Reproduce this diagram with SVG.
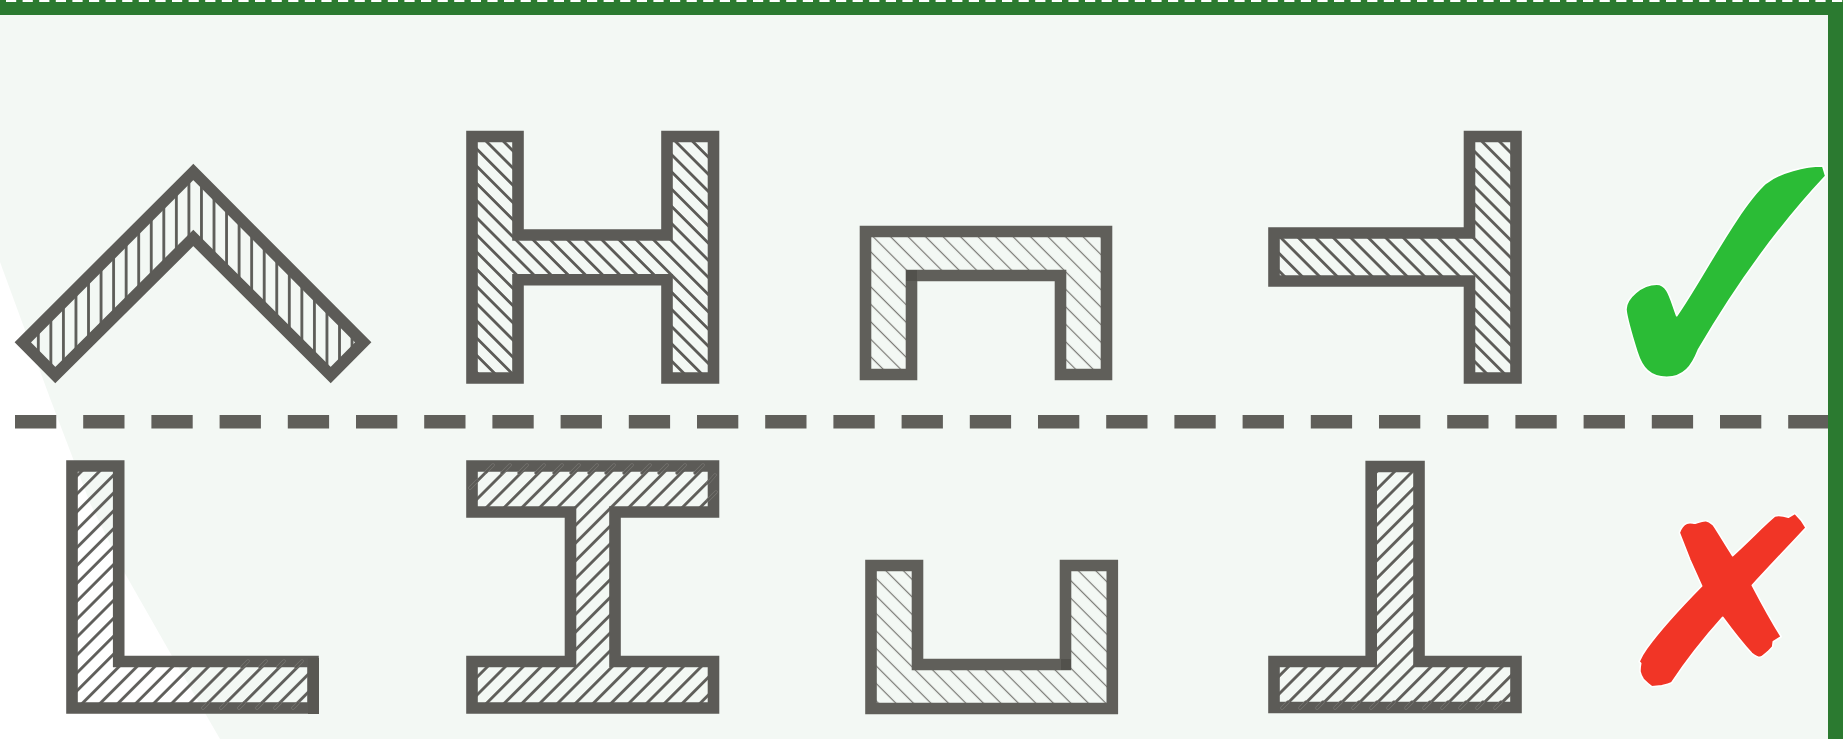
<svg xmlns="http://www.w3.org/2000/svg" width="1843" height="739" viewBox="0 0 1843 739">
<style>
.sec{stroke:#5c5b57;stroke-width:11.6;stroke-linejoin:miter;stroke-miterlimit:10}
.soft{stroke:#605f5a}
.hl{stroke:#5c5b57;stroke-width:2.8;fill:none}
.tl{stroke:#777672;stroke-width:1.2;fill:none}
.o1{stroke:#777672;stroke-width:3.4;stroke-linecap:round;fill:none}
.o2{stroke:#5a5955;stroke-width:2;stroke-linecap:round;fill:none}
</style>
<defs>
<pattern id="hv" width="12.55" height="20" patternUnits="userSpaceOnUse" patternTransform="translate(32.03 0)"><line class="hl" x1="6.275" y1="0" x2="6.275" y2="20"/></pattern>
<pattern id="hH" width="20" height="12.16" patternUnits="userSpaceOnUse" patternTransform="translate(9.6 0) rotate(45)"><line class="hl" x1="0" y1="6.08" x2="20" y2="6.08"/></pattern>
<pattern id="hT1" width="20" height="12.37" patternUnits="userSpaceOnUse" patternTransform="translate(19.75 0) rotate(45)"><line class="hl" x1="0" y1="6.185" x2="20" y2="6.185"/></pattern>
<pattern id="hU1" width="20" height="12.37" patternUnits="userSpaceOnUse" patternTransform="translate(15.35 0) rotate(45)"><line class="tl" x1="0" y1="6.185" x2="20" y2="6.185"/></pattern>
<pattern id="hU2" width="20" height="12.37" patternUnits="userSpaceOnUse" patternTransform="translate(9.05 0) rotate(45)"><line class="tl" x1="0" y1="6.185" x2="20" y2="6.185"/></pattern>
<pattern id="hL" width="20" height="12.66" patternUnits="userSpaceOnUse" patternTransform="translate(776.65 0) rotate(-45)"><line class="hl" x1="0" y1="6.33" x2="20" y2="6.33"/></pattern>
<pattern id="hI" width="20" height="12.59" patternUnits="userSpaceOnUse" patternTransform="translate(949.4 0) rotate(-45)"><line class="hl" x1="0" y1="6.295" x2="20" y2="6.295"/></pattern>
<pattern id="hT2" width="20" height="12.59" patternUnits="userSpaceOnUse" patternTransform="translate(1857.3 0) rotate(-45)"><line class="hl" x1="0" y1="6.295" x2="20" y2="6.295"/></pattern>
</defs>
<rect width="1843" height="739" fill="#ffffff"/>
<g id="frame">
<path d="M0 0H1843V739H220L172 656L123 570L90 503L50.7 400L0 262Z" fill="#f3f8f4"/>
<rect x="0" y="0" width="1843" height="15" fill="#2b7a30"/>
<rect x="1828" y="0" width="15" height="739" fill="#2b7a30"/>
<line x1="6" y1="1" x2="1843" y2="1" stroke="#ffffff" stroke-width="2" stroke-dasharray="10.2 6.4"/>
</g>
<g id="divider"><line x1="15" y1="421.8" x2="1828" y2="421.8" stroke="#605f5a" stroke-width="13.6" stroke-dasharray="41.3 26.9"/></g>

<g id="angle-chevron"><path class="sec" fill="url(#hv)" d="M193.3 172L22.8 342.3L55.3 375L193.3 238L330.7 375L363.2 342.3Z"/></g>

<g id="h-section"><path class="sec" fill="url(#hH)" d="M472 136.5H518V235H667V136.5H713.5V378H667V279.7H518V378H472Z"/></g>

<g id="channel-down"><path class="sec soft" fill="url(#hU1)" d="M865.5 231.5H1106.5V374.5H1060.5V275.5H911.5V374.5H865.5Z"/><rect x="906" y="270" width="11" height="11" fill="#52514c"/></g>

<g id="tee-left"><path class="sec" fill="url(#hT1)" d="M1274 233H1469.5V136.5H1516V378H1469.5V281H1274Z"/></g>

<g id="angle-l"><path class="sec" fill="url(#hL)" d="M72 466H118.7V661.5H313V708H72Z"/>
<rect x="308" y="658" width="11" height="56" fill="#595853"/>
<g class="o1"><path d="M203 708L208 703M242 667L248 661M221 708L226 703M260 667L266 661M239 708L244 703M278 667L284 661M257 708L262 703M296 667L302 661M275 708L280 703M293 708L298 703"/></g>
<g class="o2"><path d="M203 708L208 703M242 667L248 661M221 708L226 703M260 667L266 661M239 708L244 703M278 667L284 661M257 708L262 703M296 667L302 661M275 708L280 703M293 708L298 703"/></g>
</g>

<g id="i-section"><path class="sec" fill="url(#hI)" d="M472 466H713.5V512H615V661.5H713.5V708H472V661.5H570.5V512H472Z"/>
<g class="o1"><path d="M470 488L477 481M486 472L493 465M502 473L510 465M519 473L527 465M536 473L544 465M554 473L562 465M571 473L579 465M589 473L597 465M606 473L614 465M624 473L632 465M642 473L650 465M659 473L667 465M677 473L685 465M695 473L703 465M708 500L716 492M708 483L715 475"/></g>
<g class="o2"><path d="M470 488L477 481M486 472L493 465M502 473L510 465M519 473L527 465M536 473L544 465M554 473L562 465M571 473L579 465M589 473L597 465M606 473L614 465M624 473L632 465M642 473L650 465M659 473L667 465M677 473L685 465M695 473L703 465M708 500L716 492M708 483L715 475"/></g>
</g>

<g id="channel-up"><path class="sec soft" fill="url(#hU2)" d="M871 565.5H917.5V664.5H1065.5V565.5H1112.3V708.5H871Z"/><rect x="1061" y="659" width="10" height="11" fill="#52514c"/></g>

<g id="tee-up"><path class="sec" fill="url(#hT2)" d="M1371.2 466.5H1419V661.5H1516V707.5H1274V661.5H1371.2Z"/>
<g class="o1"><path d="M1282 708L1288 702M1300 708L1306 702M1317 708L1323 702M1335 708L1341 702M1353 708L1359 702M1371 708L1377 702M1388 708L1394 702M1406 708L1412 702M1424 708L1430 702M1442 708L1448 702M1460 708L1466 702M1477 708L1483 702M1495 708L1501 702"/></g>
<g class="o2"><path d="M1282 708L1288 702M1300 708L1306 702M1317 708L1323 702M1335 708L1341 702M1353 708L1359 702M1371 708L1377 702M1388 708L1394 702M1406 708L1412 702M1424 708L1430 702M1442 708L1448 702M1460 708L1466 702M1477 708L1483 702M1495 708L1501 702"/></g>
</g>

<g id="check-mark"><path fill="#2bbc36" stroke="#ffffff" stroke-width="1.6" stroke-linejoin="round" d="M1822.7 166L1825.7 176C1790 214 1745 270 1698.3 350C1692 366 1684 377.3 1666.7 377.3C1650 377.3 1642 368 1637 352C1632 336 1627 320 1626 310C1625.5 298 1642 284.3 1656.7 284.3C1668 284.3 1670 298 1676.7 315.7C1700 283 1738 208 1766 183C1780 172 1805 166 1822.7 166Z"/></g>

<g id="cross-mark"><path fill="#f13526" stroke="#ffffff" stroke-width="1.6" stroke-linejoin="round" d="M1679.3 532.7C1681 528 1683 525 1686.7 523.3C1690 522 1692 523 1695 523.3C1699 522 1702 520.5 1706 520.7C1709 521 1711 523 1713.3 525C1717 530 1725 544 1732.7 555.7C1750 540 1765 524 1775 516C1778 515 1781 515.5 1783.3 516L1788.3 517.3L1795 513.3C1799 517 1803 522 1806 527.7C1790 545 1770 566 1752.3 585.3C1760 600 1772 622 1781.3 636.7L1773.3 641.7L1772.7 646.7L1768 651.7C1765 654 1763 657 1760 657.3C1757 657.5 1754 655 1751.7 653.3C1742 643 1732 630 1722.7 617.3C1705 637 1688 658 1671.7 682.7C1668 684.5 1665 685 1661.7 685.7L1651.7 686.7C1648 684 1646 682 1643.3 679.3C1641 676 1640.5 674 1640 671.7C1639.8 668 1640.2 666 1640.7 663.3L1639 661.7C1641 657 1644 652 1646.7 648.3C1660 630 1682 606 1701.7 586L1690 560Z"/></g>
</svg>
